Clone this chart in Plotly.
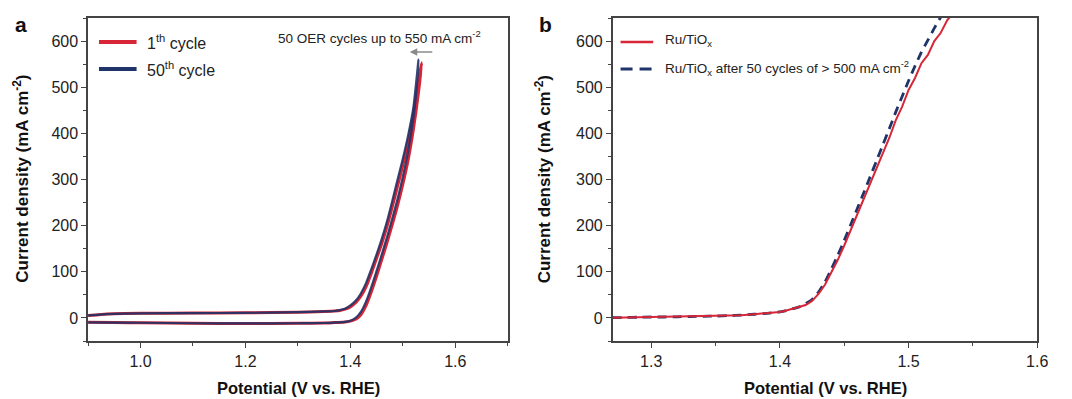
import plotly.graph_objects as go

# ---------------- data ----------------
# Panel a: CV loops (forward scan then reverse scan)
a_cycle1_V = [0.90, 0.92, 0.95, 1.00, 1.10, 1.20, 1.30, 1.35, 1.37, 1.38, 1.39, 1.40, 1.41, 1.42,
              1.43, 1.44, 1.45, 1.46, 1.47, 1.48, 1.49, 1.50, 1.51, 1.52, 1.53, 1.536,
              1.53, 1.52, 1.51, 1.50, 1.49, 1.48, 1.47, 1.46, 1.45, 1.44, 1.43, 1.42, 1.41,
              1.40, 1.39, 1.37, 1.35, 1.30, 1.20, 1.10, 1.00, 0.95, 0.90]
a_cycle1_J = [5, 7, 9, 10, 10.5, 11, 12.5, 14, 15, 16, 19, 24, 33, 47,
              68, 97, 129, 162, 199, 241, 286, 331, 380, 440, 515, 553,
              490, 408, 342, 290, 244, 203, 164, 127, 91, 57, 27, 7, -3,
              -7, -9, -10, -11, -11.5, -12, -11.5, -10.5, -10, -9.5]
a_cycle50_V = [0.90, 0.92, 0.95, 1.00, 1.10, 1.20, 1.30, 1.35, 1.37, 1.38, 1.39, 1.40, 1.41, 1.42,
               1.43, 1.44, 1.45, 1.46, 1.47, 1.48, 1.49, 1.50, 1.51, 1.52, 1.53,
               1.525, 1.52, 1.51, 1.50, 1.49, 1.48, 1.47, 1.46, 1.45, 1.44, 1.43, 1.42, 1.41,
               1.40, 1.39, 1.37, 1.35, 1.30, 1.20, 1.10, 1.00, 0.95, 0.90]
a_cycle50_J = [5, 7, 9, 10, 10.5, 11, 12.5, 14, 15, 17, 20, 27, 37, 53,
               76, 106, 138, 172, 210, 254, 300, 345, 395, 455, 560,
               480, 432, 361, 306, 258, 216, 176, 138, 102, 67, 36, 13, 0,
               -6, -8.5, -10, -11, -11.5, -12, -11.5, -10.5, -10, -9.5]

# Panel b: LSV curves
b_V = [1.27, 1.28, 1.29, 1.30, 1.31, 1.32, 1.33, 1.34, 1.35, 1.36, 1.37, 1.38, 1.39, 1.40,
       1.405, 1.41, 1.415, 1.42, 1.425, 1.43, 1.435, 1.44, 1.445, 1.45, 1.455, 1.46, 1.465,
       1.47, 1.475, 1.48, 1.485, 1.49, 1.495, 1.50, 1.505, 1.51, 1.515, 1.52, 1.525, 1.53,
       1.535, 1.54]
b_fresh_J = [0.5, 1, 1.5, 2, 2, 2.5, 3, 3.5, 4, 5, 6, 8, 10, 13,
             16, 20, 24, 28, 37, 52, 72, 98, 126, 157, 190, 224, 256,
             290, 322, 358, 390, 428, 458, 494, 520, 552, 570, 600, 618, 645,
             662, 690]
b_cycled_J = [0.5, 1, 1.5, 2, 2, 2.5, 3, 3.5, 4, 5, 6, 8, 10, 13,
              16, 20, 24, 31, 40, 56, 78, 106, 136, 168, 202, 236, 270,
              305, 340, 375, 410, 446, 480, 514, 546, 576, 602, 628, 652, 676,
              700, 724]

a_xticks = [1.0, 1.2, 1.4, 1.6]
b_xticks = [1.3, 1.4, 1.5, 1.6]
yticks = [0, 100, 200, 300, 400, 500, 600]

RED = "#d62637"
NAVY = "#1f3468"
FONT = "Liberation Sans, Arial, sans-serif"

W, H = 1072, 399


def px(x):
    return x / W


def py(y):
    return 1 - y / H


fig = go.Figure()

fig.add_trace(go.Scatter(x=a_cycle1_V, y=a_cycle1_J, mode="lines",
                         line=dict(color=RED, width=3, shape="spline", smoothing=0.7),
                         xaxis="x", yaxis="y", showlegend=False))
fig.add_trace(go.Scatter(x=a_cycle50_V, y=a_cycle50_J, mode="lines",
                         line=dict(color=NAVY, width=2.2, shape="spline", smoothing=0.7),
                         xaxis="x", yaxis="y", showlegend=False, opacity=0.9))

fig.add_trace(go.Scatter(x=b_V, y=b_cycled_J, mode="lines",
                         line=dict(color=NAVY, width=2.8, dash="9px,6px",
                                   shape="spline", smoothing=0.5),
                         xaxis="x2", yaxis="y2", showlegend=False))
fig.add_trace(go.Scatter(x=b_V, y=b_fresh_J, mode="lines",
                         line=dict(color=RED, width=2), xaxis="x2", yaxis="y2",
                         showlegend=False))

axis_common = dict(
    showline=True, linecolor="#444", linewidth=1.5, mirror=True,
    ticks="outside", ticklen=5, tickwidth=1.2, tickcolor="#444",
    showgrid=False, zeroline=False,
    tickfont=dict(family=FONT, size=16, color="#222"),
)

yd = [py(341), py(18)]

fig.update_layout(
    width=W, height=H,
    margin=dict(l=0, r=0, t=0, b=0),
    paper_bgcolor="white", plot_bgcolor="white",
    xaxis=dict(domain=[px(89), px(513)], range=[0.9, 1.7], tickvals=a_xticks,
               tickformat=".1f",
               minor=dict(ticks="outside", dtick=0.1, tick0=0.9, ticklen=3,
                          tickcolor="#444", tickwidth=1.2),
               anchor="y", **axis_common),
    yaxis=dict(domain=yd, range=[-50, 650], tickvals=yticks,
               minor=dict(ticks="outside", dtick=50, tick0=0, ticklen=3,
                          tickcolor="#444", tickwidth=1.2),
               anchor="x", **axis_common),
    xaxis2=dict(domain=[px(619), px(1048)], range=[1.27, 1.6], tickvals=b_xticks,
                tickformat=".1f",
                minor=dict(ticks="outside", dtick=0.05, tick0=1.3, ticklen=3,
                           tickcolor="#444", tickwidth=1.2),
                anchor="y2", **axis_common),
    yaxis2=dict(domain=yd, range=[-50, 650], tickvals=yticks,
                minor=dict(ticks="outside", dtick=50, tick0=0, ticklen=3,
                           tickcolor="#444", tickwidth=1.2),
                anchor="x2", **axis_common),
)

ann = []
# panel labels
ann.append(dict(text="<b>a</b>", x=px(13), y=py(25), xref="paper", yref="paper",
                xanchor="left", yanchor="middle", showarrow=False,
                font=dict(family=FONT, size=21, color="#111")))
ann.append(dict(text="<b>b</b>", x=px(543), y=py(25), xref="paper", yref="paper",
                xanchor="left", yanchor="middle", showarrow=False,
                font=dict(family=FONT, size=21, color="#111")))
# axis titles
for cx in (302, 834):
    ann.append(dict(text="<b>Potential (V vs. RHE)</b>", x=px(cx), y=py(388),
                    xref="paper", yref="paper", xanchor="center", yanchor="middle",
                    showarrow=False, font=dict(family=FONT, size=16.5, color="#111")))
for cx in (21, 549):
    ann.append(dict(text="<b>Current density (mA cm<sup>-2</sup>)</b>", x=px(cx), y=py(179),
                    xref="paper", yref="paper", xanchor="center", yanchor="middle",
                    textangle=-90, showarrow=False,
                    font=dict(family=FONT, size=17, color="#111")))
# legend a
ann.append(dict(text="1<sup>th</sup> cycle", x=px(147), y=py(42), xref="paper", yref="paper",
                xanchor="left", yanchor="middle", showarrow=False,
                font=dict(family=FONT, size=16, color="#222")))
ann.append(dict(text="50<sup>th</sup> cycle", x=px(147), y=py(69), xref="paper", yref="paper",
                xanchor="left", yanchor="middle", showarrow=False,
                font=dict(family=FONT, size=16, color="#222")))
# annotation a
ann.append(dict(text="50 OER cycles up to 550 mA cm<sup>-2</sup>", x=px(279), y=py(37),
                xref="paper", yref="paper", xanchor="left", yanchor="middle",
                showarrow=False, font=dict(family=FONT, size=13.5, color="#222")))
ann.append(dict(text="", x=px(414), y=py(52), ax=24, ay=0,
                xref="paper", yref="paper", axref="pixel", ayref="pixel",
                showarrow=True, arrowhead=2, arrowsize=1, arrowwidth=1.5,
                arrowcolor="#8a8a8a"))
# legend b
ann.append(dict(text="Ru/TiO<sub>x</sub>", x=px(670), y=py(40), xref="paper", yref="paper",
                xanchor="left", yanchor="middle", showarrow=False,
                font=dict(family=FONT, size=13.5, color="#222")))
ann.append(dict(text="Ru/TiO<sub>x</sub> after 50 cycles of &gt; 500 mA cm<sup>-2</sup>",
                x=px(670), y=py(68), xref="paper", yref="paper",
                xanchor="left", yanchor="middle", showarrow=False,
                font=dict(family=FONT, size=13.5, color="#222")))

shapes = [
    dict(type="line", xref="paper", yref="paper", x0=px(100), x1=px(138), y0=py(42), y1=py(42),
         line=dict(color=RED, width=4)),
    dict(type="line", xref="paper", yref="paper", x0=px(100), x1=px(138), y0=py(69), y1=py(69),
         line=dict(color=NAVY, width=4)),
    dict(type="line", xref="paper", yref="paper", x0=px(627), x1=px(660), y0=py(42), y1=py(42),
         line=dict(color=RED, width=2.5)),
    dict(type="line", xref="paper", yref="paper", x0=px(627), x1=px(660), y0=py(69), y1=py(69),
         line=dict(color=NAVY, width=2.8, dash="12px,7px")),
]

fig.update_layout(annotations=ann, shapes=shapes)

fig.write_html("out.html")
